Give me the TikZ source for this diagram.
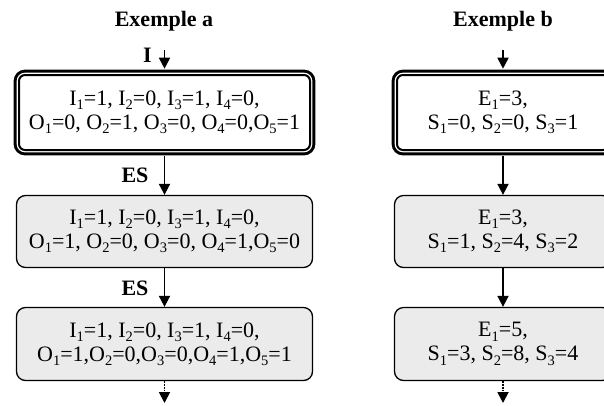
\documentclass[tikz,border=0pt]{standalone}
\usepackage{fontspec}
\setmainfont{Liberation Serif}
\usetikzlibrary{arrows.meta}
\newcommand\sbx[1]{\raisebox{-0.2em}{\fontsize{14.5}{14.5}\selectfont #1}}
\definecolor{boxgray}{RGB}{235,235,235}
\tikzset{
  txt/.style={font=\fontsize{22}{24}\selectfont, align=center, inner sep=1pt},
  lbl/.style={font=\fontsize{22}{24}\selectfont\bfseries, inner sep=0pt, anchor=base},
  startbox/.style={txt, rounded corners=6pt, fill=white, draw=black, line width=2pt,
    preaction={draw=black, line width=10.6pt},
    preaction={draw=white, line width=4.6pt}},
  statebox/.style={txt, rounded corners=9pt, fill=boxgray, draw=black, line width=1.3pt},
  flow/.style={-{Triangle[width=11pt,length=11pt]}, line width=1.8pt},
  flowdots/.style={flow, densely dotted},
}
\begin{document}
\begin{tikzpicture}[x=1pt,y=-1pt]
\fill[white] (0,0) rectangle (604,405);
\useasboundingbox (0,0) rectangle (604,405);
\clip (0,0) rectangle (604,405);

% titles
\node[lbl] (ta) at (164,26) {Exemple a};
\node[lbl] (tb) at (503,26) {Exemple b};

% column a
\node[startbox, minimum width=291pt, minimum height=75pt] (a1) at (164.5,112.5)
  {I\sbx1=1, I\sbx2=0, I\sbx3=1, I\sbx4=0,\\O\sbx1=0, O\sbx2=1, O\sbx3=0, O\sbx4=0,O\sbx5=1};
\node[statebox, minimum width=296pt, minimum height=72pt] (a2) at (164.5,231.5)
  {I\sbx1=1, I\sbx2=0, I\sbx3=1, I\sbx4=0,\\O\sbx1=1, O\sbx2=0, O\sbx3=0, O\sbx4=1,O\sbx5=0};
\node[statebox, minimum width=296pt, minimum height=73pt] (a3) at (164.5,344)
  {I\sbx1=1, I\sbx2=0, I\sbx3=1, I\sbx4=0,\\O\sbx1=1,O\sbx2=0,O\sbx3=0,O\sbx4=1,O\sbx5=1};

\coordinate (ain) at (164.5,50);
\coordinate (aout) at (164.5,403);
\node[lbl] (li) at (147.5,62) {I};
\node[lbl] (les1) at (135,182) {ES};
\node[lbl] (les2) at (135,295) {ES};

\draw[flow, shorten >=5.3pt] (ain) -- (a1.north);
\draw[flow, shorten <=5.3pt] (a1.south) -- (a2.north);
\draw[flow] (a2.south) -- (a3.north);
\draw[flowdots] (a3.south) -- (aout);

% column b
\node[startbox, minimum width=212pt, minimum height=75pt] (b1) at (503,112.5)
  {E\sbx1=3,\\S\sbx1=0, S\sbx2=0, S\sbx3=1};
\node[statebox, minimum width=217pt, minimum height=72pt] (b2) at (503,231.5)
  {E\sbx1=3,\\S\sbx1=1, S\sbx2=4, S\sbx3=2};
\node[statebox, minimum width=217pt, minimum height=73pt] (b3) at (503,344)
  {E\sbx1=5,\\S\sbx1=3, S\sbx2=8, S\sbx3=4};

\coordinate (bin) at (503,50);
\coordinate (bout) at (503,403);
\draw[flow, shorten >=5.3pt] (bin) -- (b1.north);
\draw[flow, shorten <=5.3pt] (b1.south) -- (b2.north);
\draw[flow] (b2.south) -- (b3.north);
\draw[flowdots] (b3.south) -- (bout);
\end{tikzpicture}
\end{document}
